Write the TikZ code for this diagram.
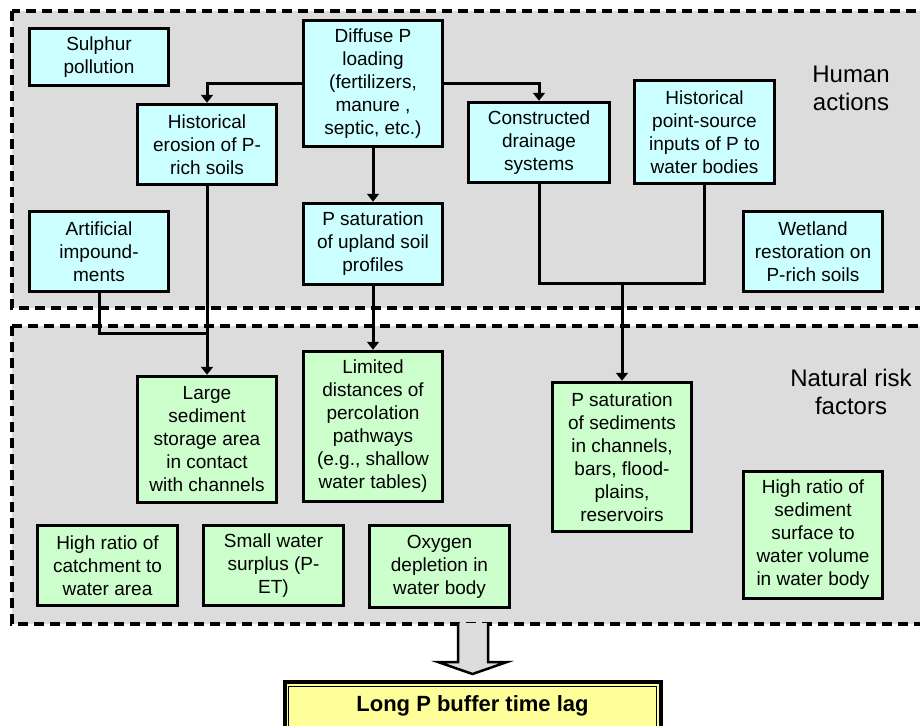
\documentclass[tikz,border=0pt]{standalone}
\usepackage{fontspec}
\setmainfont{Liberation Sans}
\usetikzlibrary{arrows.meta,calc}
\definecolor{regiongrey}{RGB}{220,220,220}
\definecolor{cyanfill}{RGB}{204,255,255}
\definecolor{greenfill}{RGB}{204,255,204}
\definecolor{yellowfill}{RGB}{255,255,153}
\tikzset{
  region/.style={fill=regiongrey, draw=black, line width=3.5pt, dash pattern=on 10pt off 6pt},
  basebox/.style={draw=black, line width=3.5pt, align=center, inner sep=2pt,
    font=\fontsize{19}{23}\selectfont},
  humanbox/.style={basebox, fill=cyanfill},
  naturebox/.style={basebox, fill=greenfill},
  conn/.style={draw=black, line width=3pt},
  arr/.style={conn, -{Triangle[length=8pt,width=12pt]}},
  heading/.style={align=center, font=\fontsize{24}{28}\selectfont},
}
\begin{document}
\begin{tikzpicture}[x=1pt,y=-1pt]
\useasboundingbox (0,0) rectangle (920,725);
% regions
\path[region] (12,11) rectangle (935,308);
\path[region] (12,326) rectangle (935,624);
\node[heading] (hum) at (851,88) {Human\\actions};
\node[heading] (nat) at (851,392) {Natural risk\\factors};
% human boxes
\node[humanbox, minimum width=139pt, minimum height=57pt] (sulphur) at (99,57) {Sulphur\\pollution};
\node[humanbox, minimum width=139pt, minimum height=126pt] (diffuse) at (373,83.5) {Diffuse P\\loading\\(fertilizers,\\manure ,\\septic, etc.)};
\node[humanbox, minimum width=139pt, minimum height=80pt] (erosion) at (207,144.5) {Historical\\erosion of P-\\rich soils};
\node[humanbox, minimum width=139pt, minimum height=80pt] (impound) at (99,251.5) {Artificial\\impound-\\ments};
\node[humanbox, minimum width=139pt, minimum height=81pt] (upland) at (373,244) {P saturation\\of upland soil\\profiles};
\node[humanbox, minimum width=141pt, minimum height=80pt] (drainage) at (539,142.5) {Constructed\\drainage\\systems};
\node[humanbox, minimum width=140pt, minimum height=103pt] (ptsrc) at (704.5,132) {Historical\\point-source\\inputs of P to\\water bodies};
\node[humanbox, minimum width=139pt, minimum height=80pt] (wetland) at (813,251.5) {Wetland\\restoration on\\P-rich soils};
% natural boxes
\node[naturebox, minimum width=139pt, minimum height=126pt] (large) at (207,439.5) {Large\\sediment\\storage area\\in contact\\with channels};
\node[naturebox, minimum width=139pt, minimum height=150pt] (limited) at (373,426.5) {Limited\\distances of\\percolation\\pathways\\(e.g., shallow\\water tables)};
\node[naturebox, minimum width=140pt, minimum height=80pt] (catch) at (107.5,565.5) {High ratio of\\catchment to\\water area};
\node[naturebox, minimum width=140pt, minimum height=80pt] (surplus) at (273.5,565.5) {Small water\\surplus (P-\\ET)};
\node[naturebox, minimum width=140pt, minimum height=82pt] (oxygen) at (439.5,566.5) {Oxygen\\depletion in\\water body};
\node[naturebox, minimum width=139pt, minimum height=149pt] (psed) at (622,457) {P saturation\\of sediments\\in channels,\\bars, flood-\\plains,\\reservoirs};
\node[naturebox, minimum width=139pt, minimum height=127pt] (sedratio) at (813,535) {High ratio of\\sediment\\surface to\\water volume\\in water body};
% result box
\node[draw=black, line width=4pt, fill=yellowfill, minimum width=376pt, minimum height=48pt,
  font=\fontsize{22}{26}\selectfont\bfseries, anchor=north, inner sep=0pt] (result) at (472.5,680) {\raisebox{3pt}{Long P buffer time lag}};
\draw[black, line width=1pt] ($(result.north west)+(6,6)$) rectangle ($(result.south east)+(-6,-6)$);
% connectors
\draw[arr] (diffuse.west) -| (erosion.north);
\draw[arr] (diffuse.east) -| (drainage.north);
\draw[arr] (diffuse.south) -- (upland.north);
\draw[arr] (erosion.south) -- (large.north);
\coordinate (j1) at (207,333);
\draw[conn] (impound.south) |- (j1);
\draw[arr] (upland.south) -- (limited.north);
\coordinate (j2) at (622,283);
\draw[conn] (drainage.south) |- (j2) -| (ptsrc.south);
\draw[arr] (j2) -- (psed.north);
% block arrow
\coordinate (ba1) at (458,623);
\coordinate (ba2) at (488,623);
\fill[regiongrey] (ba1) -- (458,662) -- (438,662) -- (472.5,674) -- (507,662) -- (488,662) -- (ba2) -- cycle;
\draw[black, line width=2.5pt, line join=miter] (ba1) -- (458,662) -- (438,662) -- (472.5,674) -- (507,662) -- (488,662) -- (ba2);
\end{tikzpicture}
\end{document}
